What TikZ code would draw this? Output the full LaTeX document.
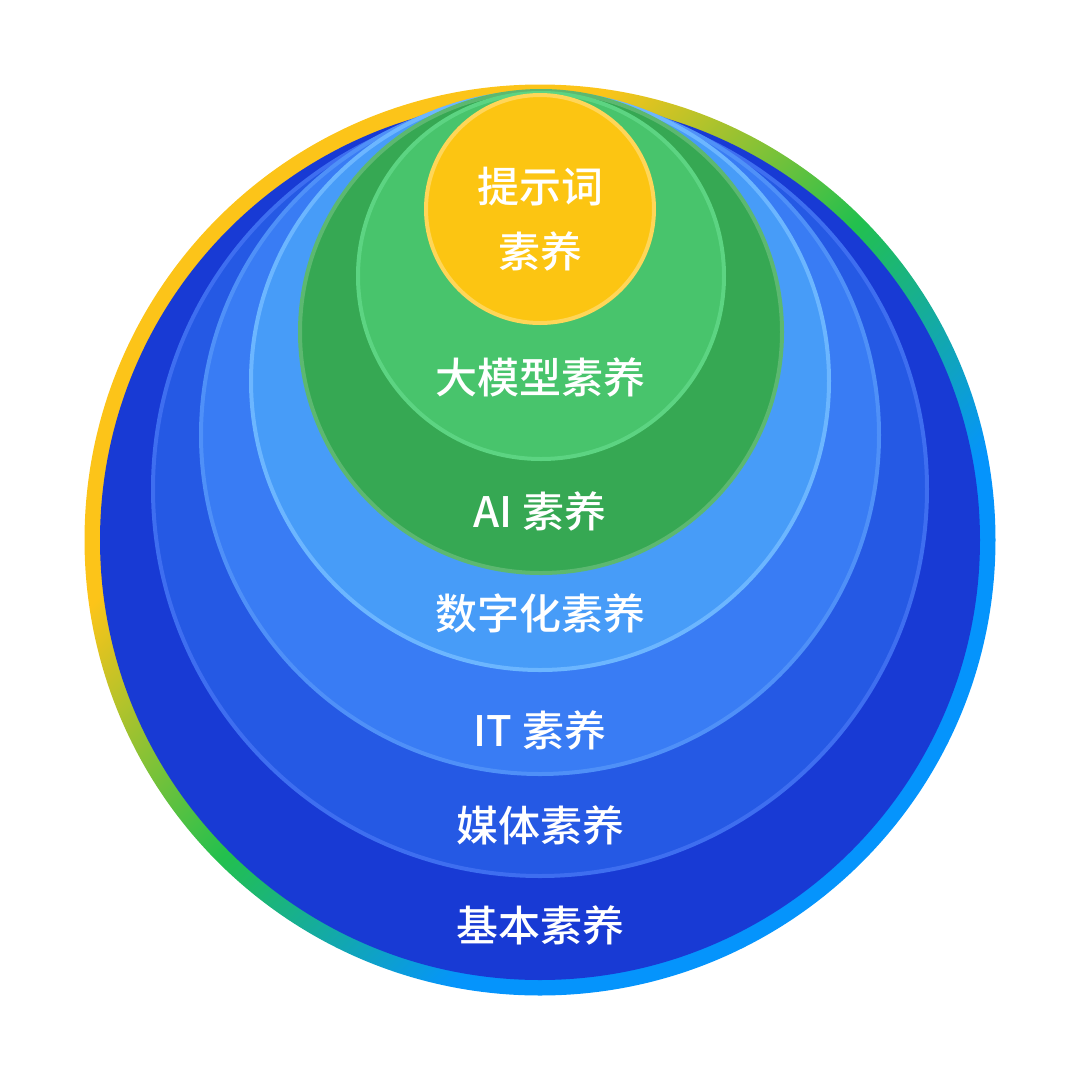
\documentclass[tikz,border=0pt]{standalone}
\usepackage{fontspec}
\setmainfont{Noto Sans CJK SC}[UprightFont=* Medium]
\definecolor{ryellow}{HTML}{FCC419}
\definecolor{rgreen}{HTML}{22C04E}
\definecolor{rblue}{HTML}{0594FC}
\definecolor{cbase}{HTML}{183AD4}
\definecolor{cmedia}{HTML}{2559E4}
\definecolor{cmediaB}{HTML}{3E6EF0}
\definecolor{cit}{HTML}{397CF4}
\definecolor{citB}{HTML}{4F90F8}
\definecolor{cdig}{HTML}{479CF8}
\definecolor{cdigB}{HTML}{6CB6FF}
\definecolor{cai}{HTML}{36A853}
\definecolor{caiB}{HTML}{5CB870}
\definecolor{cllm}{HTML}{48C46C}
\definecolor{cllmB}{HTML}{5CD482}
\definecolor{cprompt}{HTML}{FCC512}
\definecolor{cpromptB}{HTML}{FFD658}
\pgfdeclarehorizontalshading{ringshade}{100bp}{color(0bp)=(ryellow); color(35bp)=(ryellow); color(50bp)=(rgreen); color(64bp)=(rblue); color(100bp)=(rblue)}
\tikzset{
  layer/.style={line width=4pt},
  lbl/.style={text=white, font=\fontsize{42}{50}\selectfont, inner sep=0pt, anchor=center}
}
\begin{document}
\begin{tikzpicture}[x=1pt,y=-1pt]
\useasboundingbox (0,0) rectangle (1080,1080);
% outer gradient ring
\path[shading=ringshade, shading angle=-45] (540,540) circle[radius=455.5pt];
% layers
\path[fill=cbase] (540,540) circle[radius=440pt];
\path[layer, fill=cmedia, draw=cmediaB] (540,489) circle[radius=387pt];
\path[layer, fill=cit, draw=citB] (540,435) circle[radius=339pt];
\path[layer, fill=cdig, draw=cdigB] (540,381) circle[radius=289pt];
\path[layer, fill=cai, draw=caiB] (541,332) circle[radius=241pt];
\path[layer, fill=cllm, draw=cllmB] (541,276) circle[radius=183pt];
\path[layer, fill=cprompt, draw=cpromptB] (540,209) circle[radius=114pt];
% labels
\node[lbl] (tPrompt1) at (540,187) {提示词};
\node[lbl] (tPrompt2) at (540,251) {素养};
\node[lbl] (tLLM) at (540,377) {大模型素养};
\node[lbl] (tAI) at (540,511) {AI 素养};
\node[lbl] (tDig) at (540,613) {数字化素养};
\node[lbl] (tIT) at (540,730) {IT 素养};
\node[lbl] (tMedia) at (540,825) {媒体素养};
\node[lbl] (tBase) at (540,925) {基本素养};
\end{tikzpicture}
\end{document}
